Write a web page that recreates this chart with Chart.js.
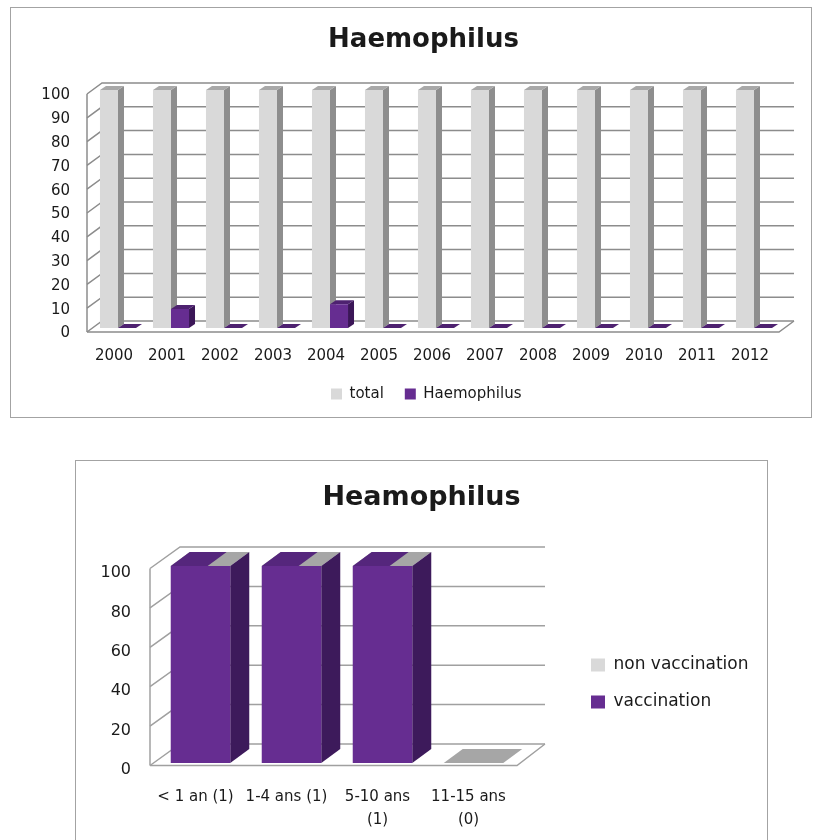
<!DOCTYPE html>
<html><head><meta charset="utf-8">
<script src="https://cdn.jsdelivr.net/npm/chart.js@4.4.1/dist/chart.umd.min.js"></script>
<style>
html,body{margin:0;padding:0;background:#fff;width:824px;height:840px;overflow:hidden;}
.box{position:absolute;border:1px solid #a3a3a3;background:#fff;}
#box1{left:10px;top:7px;width:800px;height:409px;}
#box2{left:75px;top:460px;width:691px;height:420px;}
canvas{position:absolute;left:0;top:0;}
</style></head><body>
<div class="box" id="box1"><canvas id="c1" width="800" height="409"></canvas></div>
<div class="box" id="box2"><canvas id="c2" width="691" height="379"></canvas></div>
<script>
// ---- data ----
const YEARS = ['2000','2001','2002','2003','2004','2005','2006','2007','2008','2009','2010','2011','2012'];
const TOTAL = [100,100,100,100,100,100,100,100,100,100,100,100,100];
const HAEMOPHILUS = [0,8,0,0,10,0,0,0,0,0,0,0,0];
const TITLE_1 = 'Haemophilus';
const SERIES_1 = ['total','Haemophilus'];

const AGE_GROUPS = ['< 1 an (1)', '1-4 ans (1)', ['5-10 ans','(1)'], ['11-15 ans','(0)']];
const VACCINATION = [100,100,100,0];
const NON_VACCINATION = [0,0,0,0];
const TITLE_2 = 'Heamophilus';
const SERIES_2 = ['vaccination','non vaccination'];

Chart.defaults.font.family = "'DejaVu Sans', sans-serif";
Chart.defaults.color = '#1a1a1a';

// pseudo-3D walls and bar faces, positioned from the chart's own scales/elements
const fake3d = {
  id: 'fake3d',
  afterLayout(chart, args, o) {
    const lg = chart.legend;
    if (lg && o.legendAt) {
      const p = lg.options.labels.padding, w = lg.width, h = lg.height;
      lg.left = o.legendAt[0] - p; lg.top = o.legendAt[1] - p;
      lg.right = lg.left + w; lg.bottom = lg.top + h;
    }
  },
  beforeDatasetsDraw(chart, args, o) {
    const ctx = chart.ctx, ca = chart.chartArea, ys = chart.scales.y, W = o.wall;
    const fxl = ca.left + W.fl, bxl = ca.left + W.bl, bxr = ca.right + W.br, fxr = ca.right + W.fr;
    const yTop = ys.getPixelForValue(ys.max), yBot = ys.getPixelForValue(ys.min);
    ctx.save();
    ctx.lineWidth = o.gridWidth; ctx.strokeStyle = o.gridColor;
    ctx.beginPath(); ctx.moveTo(fxl, yTop + W.fy); ctx.lineTo(fxl, yBot + W.fy); ctx.stroke();
    ys.ticks.forEach(t => {
      const py = ys.getPixelForValue(t.value);
      ctx.beginPath(); ctx.moveTo(fxl, py + W.fy); ctx.lineTo(bxl, py + W.by); ctx.lineTo(bxr, py + W.by); ctx.stroke();
    });
    ctx.beginPath(); ctx.moveTo(fxl, yBot + W.fy); ctx.lineTo(fxr, yBot + W.fy); ctx.lineTo(bxr, yBot + W.by); ctx.stroke();
    const [dx, dy] = o.depth;
    const order = o.order || chart.data.datasets.map((d, i) => i);
    order.forEach(di => {
      const f = o.faces[di];
      const meta = chart.getDatasetMeta(di);
      meta.data.forEach((bar, i) => {
        const v = chart.data.datasets[di].data[i];
        const {x, y, base, width} = bar.getProps(['x','y','base','width'], true);
        const l = x - width / 2, r = x + width / 2;
        if (base - y > 0.5) {
          ctx.fillStyle = f.side;
          ctx.beginPath(); ctx.moveTo(r, y); ctx.lineTo(r + dx, y + dy); ctx.lineTo(r + dx, base + dy); ctx.lineTo(r, base); ctx.closePath(); ctx.fill();
        }
        if (f.skipZero && !v) return;
        const fr = f.topFrac || 1;
        ctx.fillStyle = f.top;
        ctx.beginPath(); ctx.moveTo(l, y); ctx.lineTo(l + dx, y + dy); ctx.lineTo(l + width * fr + dx, y + dy); ctx.lineTo(l + width * fr, y); ctx.closePath(); ctx.fill();
      });
    });
    ctx.restore();
  }
};

const hiddenAxis = (w) => ({position:'right', display:true, grid:{display:false, drawTicks:false}, border:{display:false}, ticks:{display:false}, afterFit(s){ s.width = w; }});

new Chart(document.getElementById('c1'), {
  type: 'bar',
  data: { labels: YEARS, datasets: [
    {label: SERIES_1[0], data: TOTAL, backgroundColor: '#d9d9d9', borderWidth: 0},
    {label: SERIES_1[1], data: HAEMOPHILUS, backgroundColor: '#662d91', borderWidth: 0}
  ]},
  options: {
    responsive: false, animation: false,
    datasets: { bar: { categoryPercentage: 0.68, barPercentage: 1 } },
    layout: { padding: { left: 25, right: 0, top: 0, bottom: 0 } },
    scales: {
      x: { grid:{display:false, drawTicks:false}, border:{display:false},
           ticks:{font:{size:15}, color:'#1a1a1a', padding:19, labelOffset:-4, autoSkip:false, maxRotation:0},
           afterFit(s){ s.height = 43; } },
      y: { min:0, max:100, grid:{display:false, drawTicks:false}, border:{display:false},
           ticks:{stepSize:10, font:{size:15}, color:'#1a1a1a', padding:21.5, labelOffset:5.5},
           afterFit(s){ s.width = 55.5; } },
      y2: hiddenAxis(30.5)
    },
    plugins: {
      title: { display:true, text: TITLE_1, font:{size:26, weight:'bold'}, color:'#1a1a1a', padding:{top:16.4, bottom:34.4} },
      legend: { position:'bottom', align:'start', labels:{boxWidth:11, boxHeight:11, padding:21, font:{size:15}, color:'#1a1a1a'} },
      tooltip: { enabled:false },
      fake3d: {
        legendAt: [320, 378.5],
        wall: { fl:-4.5, bl:10.5, br:13.5, fr:-1.5, fy:4, by:-7 },
        gridColor:'#8c8c8c', gridWidth:1.5,
        depth: [6, -4],
        faces: [ {side:'#8e8e8e', top:'#a8a8a8', skipZero:true}, {side:'#3b1657', top:'#4e2270'} ]
      }
    }
  },
  plugins: [fake3d]
});

new Chart(document.getElementById('c2'), {
  type: 'bar',
  data: { labels: AGE_GROUPS, datasets: [
    {label: SERIES_2[0], data: VACCINATION, backgroundColor: '#662d91', borderWidth: 0},
    {label: SERIES_2[1], data: NON_VACCINATION, backgroundColor: '#d9d9d9', borderWidth: 0}
  ]},
  options: {
    responsive: false, animation: false,
    datasets: { bar: { categoryPercentage: 0.654, barPercentage: 1 } },
    layout: { padding: 0 },
    scales: {
      x: { stacked:true, grid:{display:false, drawTicks:false}, border:{display:false},
           ticks:{font:{size:15, lineHeight:1.5}, color:'#1a1a1a', padding:23, labelOffset:-5, autoSkip:false, maxRotation:0},
           afterFit(s){ s.height = 77; } },
      y: { stacked:true, min:0, max:100, grid:{display:false, drawTicks:false}, border:{display:false},
           ticks:{stepSize:20, font:{size:16}, color:'#1a1a1a', padding:24, labelOffset:7},
           afterFit(s){ s.width = 79; } },
      y2: hiddenAxis(248)
    },
    plugins: {
      title: { display:true, text: TITLE_2, font:{size:27, weight:'bold'}, color:'#1a1a1a', padding:{top:20.8, bottom:51.8} },
      legend: { position:'chartArea', align:'start', reverse:true, labels:{boxWidth:14, boxHeight:13, padding:20, font:{size:17}, color:'#1a1a1a'} },
      tooltip: { enabled:false },
      fake3d: {
        legendAt: [515, 195.5],
        wall: { fl:-5, bl:25, br:26, fr:-2, fy:2.5, by:-19 },
        gridColor:'#a0a0a0', gridWidth:1.5,
        depth: [19, -14],
        order: [1, 0],
        faces: [ {side:'#3d1a5b', top:'#55267c', topFrac:0.62, skipZero:true}, {side:'#bdbdbd', top:'#a6a6a6'} ]
      }
    }
  },
  plugins: [fake3d]
});
</script>
</body></html>
